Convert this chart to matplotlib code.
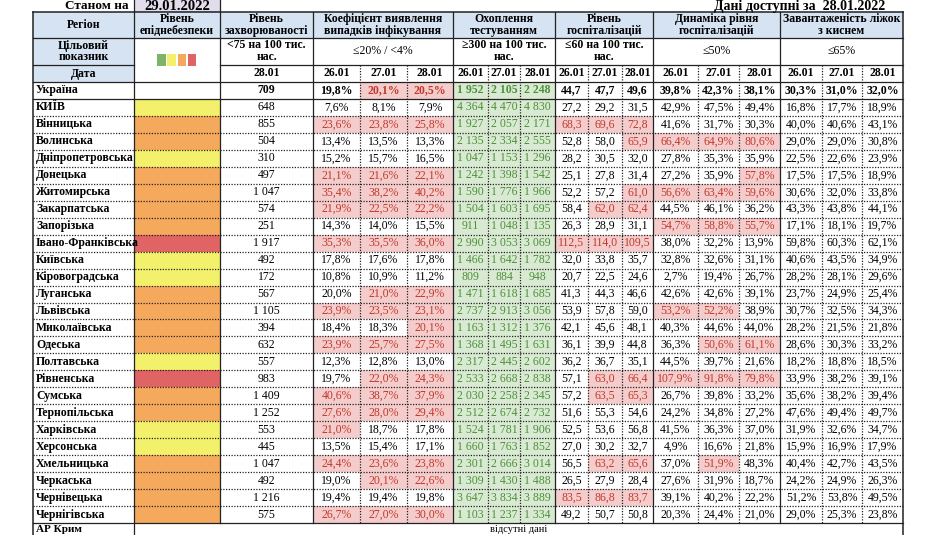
import matplotlib
matplotlib.use('Agg')
import matplotlib.pyplot as plt
from matplotlib.patches import Rectangle

# --- data (as of 29.01.2022, data available for 28.01.2022) ---
regions = ['Україна', 'КИЇВ', 'Вінницька', 'Волинська', 'Дніпропетровська', 'Донецька',
           'Житомирська', 'Закарпатська', 'Запорізька', 'Івано-Франківська', 'Київська',
           'Кіровоградська', 'Луганська', 'Львівська', 'Миколаївська', 'Одеська',
           'Полтавська', 'Рівненська', 'Сумська', 'Тернопільська', 'Харківська',
           'Херсонська', 'Хмельницька', 'Черкаська', 'Чернівецька', 'Чернігівська']

# 0 = no level, 2 = yellow, 3 = orange, 4 = red
levels = [0, 2, 3, 3, 2, 3, 3, 3, 3, 4, 2, 2, 3, 3, 3, 3, 2, 4, 3, 3, 2, 2, 3, 3, 3, 3]

incidence = [709, 648, 855, 504, 310, 497, 1047, 574, 251, 1917, 492, 172, 567, 1105,
             394, 632, 557, 983, 1409, 1252, 553, 445, 1047, 492, 1216, 575]

dates = ['26.01', '27.01', '28.01']

detection = [(19.8, 20.1, 20.5), (7.6, 8.1, 7.9), (23.6, 23.8, 25.8), (13.4, 13.5, 13.3),
             (15.2, 15.7, 16.5), (21.1, 21.6, 22.1), (35.4, 38.2, 40.2), (21.9, 22.5, 22.2),
             (14.3, 14.0, 15.5), (35.3, 35.5, 36.0), (17.8, 17.6, 17.8), (10.8, 10.9, 11.2),
             (20.0, 21.0, 22.9), (23.9, 23.5, 23.1), (18.4, 18.3, 20.1), (23.9, 25.7, 27.5),
             (12.3, 12.8, 13.0), (19.7, 22.0, 24.3), (40.6, 38.7, 37.9), (27.6, 28.0, 29.4),
             (21.0, 18.7, 17.8), (13.5, 15.4, 17.1), (24.4, 23.6, 23.8), (19.0, 20.1, 22.6),
             (19.4, 19.4, 19.8), (26.7, 27.0, 30.0)]

testing = [(1952, 2105, 2248), (4364, 4470, 4830), (1927, 2057, 2171), (2135, 2334, 2555),
           (1047, 1153, 1296), (1242, 1398, 1542), (1590, 1776, 1966), (1504, 1603, 1695),
           (911, 1048, 1135), (2990, 3053, 3069), (1466, 1642, 1782), (809, 884, 948),
           (1471, 1618, 1685), (2737, 2913, 3056), (1163, 1312, 1376), (1368, 1495, 1631),
           (2317, 2445, 2602), (2533, 2668, 2838), (2030, 2258, 2345), (2512, 2674, 2732),
           (1524, 1781, 1906), (1660, 1763, 1852), (2301, 2666, 3014), (1309, 1430, 1488),
           (3647, 3834, 3889), (1103, 1237, 1334)]

hospital = [(44.7, 47.7, 49.6), (27.2, 29.2, 31.5), (68.3, 69.6, 72.8), (52.8, 58.0, 65.9),
            (28.2, 30.5, 32.0), (25.1, 27.8, 31.4), (52.2, 57.2, 61.0), (58.4, 62.0, 62.4),
            (26.3, 28.9, 31.1), (112.5, 114.0, 109.5), (32.0, 33.8, 35.7), (20.7, 22.5, 24.6),
            (41.3, 44.3, 46.6), (53.9, 57.8, 59.0), (42.1, 45.6, 48.1), (36.1, 39.9, 44.8),
            (36.2, 36.7, 35.1), (57.1, 63.0, 66.4), (57.2, 63.5, 65.3), (51.6, 55.3, 54.6),
            (52.5, 53.6, 56.8), (27.0, 30.2, 32.7), (56.5, 63.2, 65.6), (26.5, 27.9, 28.4),
            (83.5, 86.8, 83.7), (49.2, 50.7, 50.8)]

dynamics = [(39.8, 42.3, 38.1), (42.9, 47.5, 49.4), (41.6, 31.7, 30.3), (66.4, 64.9, 80.6),
            (27.8, 35.3, 35.9), (27.2, 35.9, 57.8), (56.6, 63.4, 59.6), (44.5, 46.1, 36.2),
            (54.7, 58.8, 55.7), (38.0, 32.2, 13.9), (32.8, 32.6, 31.1), (2.7, 19.4, 26.7),
            (42.6, 42.6, 39.1), (53.2, 52.2, 38.9), (40.3, 44.6, 44.0), (36.3, 50.6, 61.1),
            (44.5, 39.7, 21.6), (107.9, 91.8, 79.8), (26.7, 39.8, 33.2), (24.2, 34.8, 27.2),
            (41.5, 36.3, 37.0), (4.9, 16.6, 21.8), (37.0, 51.9, 48.3), (27.6, 31.9, 18.7),
            (39.1, 40.2, 22.2), (20.3, 24.4, 21.0)]

beds = [(30.3, 31.0, 32.0), (16.8, 17.7, 18.9), (40.0, 40.6, 43.1), (29.0, 29.0, 30.8),
        (22.5, 22.6, 23.9), (17.5, 17.5, 18.9), (30.6, 32.0, 33.8), (43.3, 43.8, 44.1),
        (17.1, 18.1, 19.7), (59.8, 60.3, 62.1), (40.6, 43.5, 34.9), (28.2, 28.1, 29.6),
        (23.7, 24.9, 25.4), (30.7, 32.5, 34.3), (28.2, 21.5, 21.8), (28.6, 30.3, 33.2),
        (18.2, 18.8, 18.5), (33.9, 38.2, 39.1), (35.6, 38.2, 39.4), (47.6, 49.4, 49.7),
        (31.9, 32.6, 34.7), (15.9, 16.9, 17.9), (40.4, 42.7, 43.5), (24.2, 24.9, 26.3),
        (51.2, 53.8, 49.5), (29.0, 25.3, 23.8)]

# --- styling ---
FONT = ['Liberation Serif', 'DejaVu Serif']
FS = 8.5
HEAD_BG = '#d6e3f2'
PINK_BG, PINK_TX = '#f5cccc', '#c0392b'
GREEN_BG, GREEN_TX = '#d9ead3', '#4e8f3a'
LEVEL_COLORS = {1: '#7db36a', 2: '#f3f06c', 3: '#f4a95c', 4: '#e06464'}
LINE = '#222222'


def fmt_int(v):
    return f'{v:,}'.replace(',', ' ')


def fmt_dec(v):
    return f'{v:.1f}'.replace('.', ',')


def fmt_pct(v):
    return fmt_dec(v) + '%'


fig = plt.figure(figsize=(9.52, 5.35), dpi=100)
ax = fig.add_axes([0, 0, 1, 1])
ax.set_xlim(0, 952)
ax.set_ylim(535, 0)
ax.axis('off')


def fill(x0, x1, y0, y1, color):
    ax.add_patch(Rectangle((x0, y0), x1 - x0, y1 - y0, facecolor=color,
                           edgecolor='none', zorder=1))


def txt(x, y, s, ha='center', bold=False, color='black', size=FS, ls=1.0):
    ax.text(x, y, s, ha=ha, va='center', fontsize=size, family=FONT,
            fontweight='bold' if bold else 'normal', color=color,
            linespacing=ls, multialignment='center', zorder=3)


def hline(y, x0, x1, dotted=False, lw=0.9):
    ax.plot([x0, x1], [y, y], color=LINE, lw=lw,
            ls=(0, (1, 1.2)) if dotted else '-', zorder=2)


def vline(x, y0, y1, dotted=False, lw=0.9):
    ax.plot([x, x], [y0, y1], color=LINE, lw=lw,
            ls=(0, (1, 1.2)) if dotted else '-', zorder=2)


# table geometry (pixels)
X_REG, X_LVL, X_INC, X_END = 33, 134, 220, 903
groups = [
    ('Коефіцієнт виявлення\nвипадків інфікування', '≤20% / <4%', False,
     [313, 360, 407, 453], detection, fmt_pct, lambda v: v > 20, 'pink'),
    ('Охоплення\nтестуванням', '≥300 на 100 тис.\nнас.', True,
     [453, 488, 520, 555], testing, fmt_int, lambda v: v >= 300, 'green'),
    ('Рівень\nгоспіталізацій', '≤60 на 100 тис.\nнас.', True,
     [555, 588, 622, 653], hospital, fmt_dec, lambda v: v > 60, 'pink'),
    ('Динаміка рівня\nгоспіталізацій', '≤50%', False,
     [653, 698, 739, 780], dynamics, fmt_pct, lambda v: v > 50, 'pink'),
    ('Завантаженість ліжок\nз киснем', '≤65%', False,
     [780, 822, 862, 903], beds, fmt_pct, lambda v: v > 65, 'pink'),
]
Y_H1, Y_H2, Y_H3, Y_D = 12, 38, 65, 82
Y_END = 523
row_h = (Y_END - Y_D) / len(regions)

# top captions
ax.add_patch(Rectangle((X_LVL, -2), X_INC - X_LVL, Y_H1 + 2, facecolor='#e2dcec',
                       edgecolor=LINE, lw=0.9, zorder=1))
txt(97, 6, 'Станом на', bold=True, size=9.5)
txt((X_LVL + X_INC) / 2, 6, '29.01.2022', bold=True, size=10.5)
txt(885, 6, 'Дані доступні за  28.01.2022', ha='right', bold=True, size=10)

# header fills
fill(X_REG, X_END, Y_H1, Y_H2, HEAD_BG)
fill(X_REG, X_LVL, Y_H2, Y_D, HEAD_BG)

# header texts
txt((X_REG + X_LVL) / 2, (Y_H1 + Y_H2) / 2, 'Регіон', bold=True)
txt((X_LVL + X_INC) / 2, (Y_H1 + Y_H2) / 2, 'Рівень\nепіднебезпеки', bold=True)
txt((X_INC + 313) / 2, (Y_H1 + Y_H2) / 2, 'Рівень\nзахворюваності', bold=True)
txt((X_REG + X_LVL) / 2, (Y_H2 + Y_H3) / 2, 'Цільовий\nпоказник', bold=True)
txt((X_INC + 313) / 2, (Y_H2 + Y_H3) / 2, '<75 на 100 тис.\nнас.', bold=True)
txt((X_REG + X_LVL) / 2, (Y_H3 + Y_D) / 2, 'Дата', bold=True)
txt((X_INC + 313) / 2, (Y_H3 + Y_D) / 2, '28.01', bold=True)

# level legend squares
for k, lv in enumerate(sorted(LEVEL_COLORS)):
    x0 = 157 + k * 10.3
    ax.add_patch(Rectangle((x0, 54), 8.5, 12, facecolor=LEVEL_COLORS[lv],
                           edgecolor='none', zorder=2))

for title, target, tbold, edges, vals, fmt, flag, kind in groups:
    xc = (edges[0] + edges[-1]) / 2
    txt(xc, (Y_H1 + Y_H2) / 2, title, bold=True)
    txt(xc, (Y_H2 + Y_H3) / 2, target, bold=tbold)
    for j, d in enumerate(dates):
        txt((edges[j] + edges[j + 1]) / 2, (Y_H3 + Y_D) / 2, d, bold=True)

# body
for i, name in enumerate(regions):
    y0 = Y_D + i * row_h
    y1 = y0 + row_h
    yc = (y0 + y1) / 2
    first = i == 0
    txt(X_REG + 3, yc, name, ha='left', bold=True)
    if levels[i] in LEVEL_COLORS:
        fill(X_LVL, X_INC, y0, y1, LEVEL_COLORS[levels[i]])
    txt((X_INC + 313) / 2, yc, fmt_int(incidence[i]), bold=first)
    for title, target, tbold, edges, vals, fmt, flag, kind in groups:
        for j in range(3):
            v = vals[i][j]
            color = 'black'
            if flag(v):
                bg, color = (PINK_BG, PINK_TX) if kind == 'pink' else (GREEN_BG, GREEN_TX)
                fill(edges[j], edges[j + 1], y0, y1, bg)
            txt((edges[j] + edges[j + 1]) / 2, yc, fmt(v), bold=first, color=color)

# AR Krym row
txt(X_REG + 3, Y_END + 6.5, 'АР Крим', ha='left', bold=True, size=8)
txt((X_LVL + X_END) / 2, Y_END + 6.5, 'відсутні дані', size=7.5)

# grid lines
hline(Y_H1, X_REG, X_END, lw=1.1)
hline(Y_H2, X_REG, X_END)
hline(Y_H3, X_REG, X_LVL)
hline(Y_H3, X_INC, X_END)
hline(Y_D, X_REG, X_END)
hline(Y_D + row_h, X_REG, X_END)
for i in range(2, len(regions)):
    hline(Y_D + i * row_h, X_REG, X_END, dotted=True)
hline(Y_END, X_REG, X_END)

for x in [X_REG, X_LVL]:
    vline(x, Y_H1, 540, lw=1.1 if x == X_REG else 0.9)
vline(X_END, Y_H1, 540, lw=1.1)
vline(X_INC, Y_H1, Y_END)
for title, target, tbold, edges, vals, fmt, flag, kind in groups:
    vline(edges[0], Y_H1, Y_END)
    for x in edges[1:-1]:
        vline(x, Y_H3, Y_END, dotted=True)

fig.savefig('out.png', dpi=100)
